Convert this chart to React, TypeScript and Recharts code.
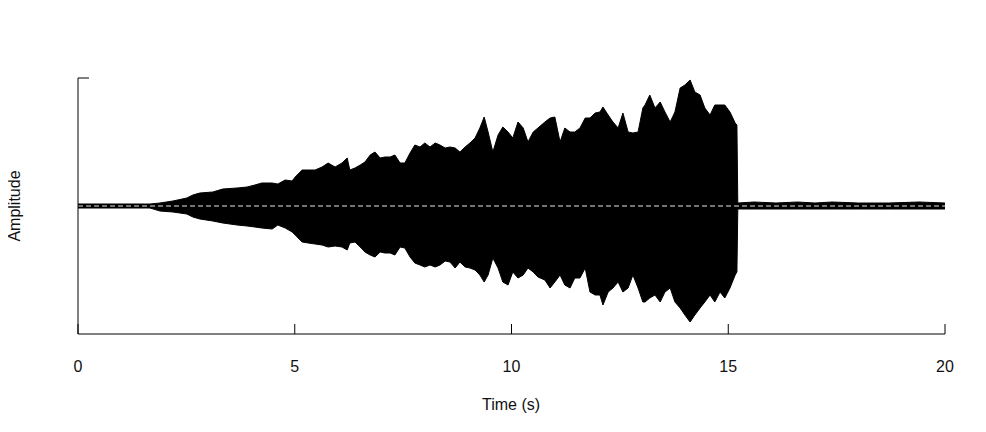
import { AreaChart, Area, XAxis, YAxis, ReferenceLine } from 'recharts';

// time (s) of each envelope sample
const times = [
    0, 1.55, 1.66, 1.89, 2.19, 2.51, 2.65, 2.81, 3.11, 3.34, 3.67, 3.9, 4.08, 4.24, 4.48, 4.61, 4.78, 4.94,
    5.01, 5.17, 5.31, 5.47, 5.63, 5.77, 5.93, 6.09, 6.21, 6.27, 6.39, 6.51, 6.62, 6.74, 6.85, 6.97, 7.08, 7.2,
    7.31, 7.43, 7.54, 7.66, 7.77, 7.89, 8.0, 8.12, 8.24, 8.35, 8.47, 8.58, 8.7, 8.81, 8.93, 9.04, 9.16, 9.27,
    9.37, 9.46, 9.57, 9.69, 9.8, 9.92, 10.03, 10.15, 10.27, 10.38, 10.5, 10.61, 10.77, 10.89, 11.0, 11.12,
    11.23, 11.35, 11.46, 11.58, 11.7, 11.81, 11.93, 12.04, 12.11, 12.23, 12.34, 12.46, 12.57, 12.69, 12.8,
    12.92, 13.03, 13.08, 13.19, 13.31, 13.43, 13.54, 13.66, 13.77, 13.89, 14.0, 14.12, 14.23, 14.35, 14.46,
    14.58, 14.69, 14.81, 14.92, 15.04, 15.16, 15.2, 15.22, 15.6, 16.1, 16.6, 17.0, 17.4, 18.0, 18.7, 19.4, 20,
];

// upper envelope (8-bit sample units)
const upper = [
    2, 2, 2, 3, 5, 8, 11, 13, 14, 17, 18, 19, 21, 23, 23, 22, 26, 25,
    29, 36, 36, 36, 39, 43, 39, 43, 48, 36, 38, 41, 44, 51, 54, 48, 49, 49,
    51, 43, 43, 53, 61, 59, 63, 59, 63, 61, 58, 59, 58, 54, 59, 63, 68, 78,
    89, 74, 54, 71, 79, 74, 68, 84, 78, 64, 74, 78, 84, 88, 89, 64,
    78, 74, 74, 78, 88, 88, 93, 94, 99, 91, 84, 78, 93, 74, 73,
    74, 98, 101, 111, 98, 104, 94, 84, 94, 118, 121, 126, 114, 111, 98,
    91, 101, 101, 101, 94, 83, 81, 3, 4, 3, 4, 3, 4, 3, 3, 4, 3,
];

// lower envelope
const lower = [
    -2, -2, -2, -5, -6, -8, -11, -13, -15, -17, -19, -20, -21, -22, -23, -19, -22, -26,
    -29, -36, -37, -38, -39, -41, -40, -41, -44, -37, -36, -41, -46, -49, -51, -46, -47, -47,
    -49, -41, -42, -51, -57, -59, -61, -59, -61, -59, -55, -56, -62, -56, -61, -62, -64, -69,
    -76, -69, -52, -62, -76, -79, -66, -72, -69, -62, -66, -71, -74, -82, -76, -69,
    -79, -82, -72, -72, -62, -86, -89, -89, -99, -86, -82, -76, -86, -82, -69,
    -82, -96, -96, -92, -89, -96, -86, -82, -96, -102, -109, -116, -109, -102, -96,
    -89, -96, -86, -92, -82, -69, -66, -3, -3, -3, -3, -3, -3, -3, -3, -3, -3,
];

const xTicks = [0, 5, 10, 15, 20];
const yTicks = [128];

const data = times.map((t, i) => ({ t, range: [lower[i], upper[i]] }));

const font = '"Liberation Sans", Arial, sans-serif';

// ticks point into the plot, label below
function XTick({ x, y, payload }: any) {
    return (
        <g>
            <line x1={x} x2={x} y1={y} y2={y - 10} stroke="#000" />
            <text x={x} y={y + 38} textAnchor="middle" fill="#111" fontSize={16} fontFamily={font}>
                {payload.value}
            </text>
        </g>
    );
}

function YTick({ x, y }: any) {
    return <line x1={x} x2={x + 11} y1={y} y2={y} stroke="#000" />;
}

export default function App() {
    return (
        <div style={{ position: 'relative', width: 986, height: 432, margin: -8, background: '#fff', fontFamily: font }}>
            <AreaChart
                width={986}
                height={432}
                data={data}
                margin={{ top: 78, right: 41, bottom: 68, left: 48 }}
            >
                <XAxis
                    type="number"
                    dataKey="t"
                    domain={[0, 20]}
                    ticks={xTicks}
                    height={30}
                    tickSize={0}
                    tickMargin={0}
                    tickLine={false}
                    axisLine={{ stroke: '#000' }}
                    tick={<XTick />}
                />
                <YAxis
                    type="number"
                    domain={[-128, 128]}
                    ticks={yTicks}
                    width={30}
                    tickSize={0}
                    tickMargin={0}
                    tickLine={false}
                    axisLine={{ stroke: '#000' }}
                    tick={<YTick />}
                />
                <Area
                    type="linear"
                    dataKey="range"
                    stroke="#000"
                    strokeWidth={1}
                    fill="#000"
                    fillOpacity={1}
                    isAnimationActive={false}
                />
                <ReferenceLine y={0} stroke="#e6e6e6" strokeDasharray="5 3" />
            </AreaChart>
            <div style={{ position: 'absolute', left: 511, top: 396, transform: 'translateX(-50%)', fontSize: 16, color: '#111', whiteSpace: 'nowrap' }}>
                Time (s)
            </div>
            <div
                style={{
                    position: 'absolute',
                    left: 15,
                    top: 206,
                    transform: 'translate(-50%, -50%) rotate(-90deg)',
                    fontSize: 16,
                    color: '#111',
                    whiteSpace: 'nowrap',
                }}
            >
                Amplitude
            </div>
        </div>
    );
}
